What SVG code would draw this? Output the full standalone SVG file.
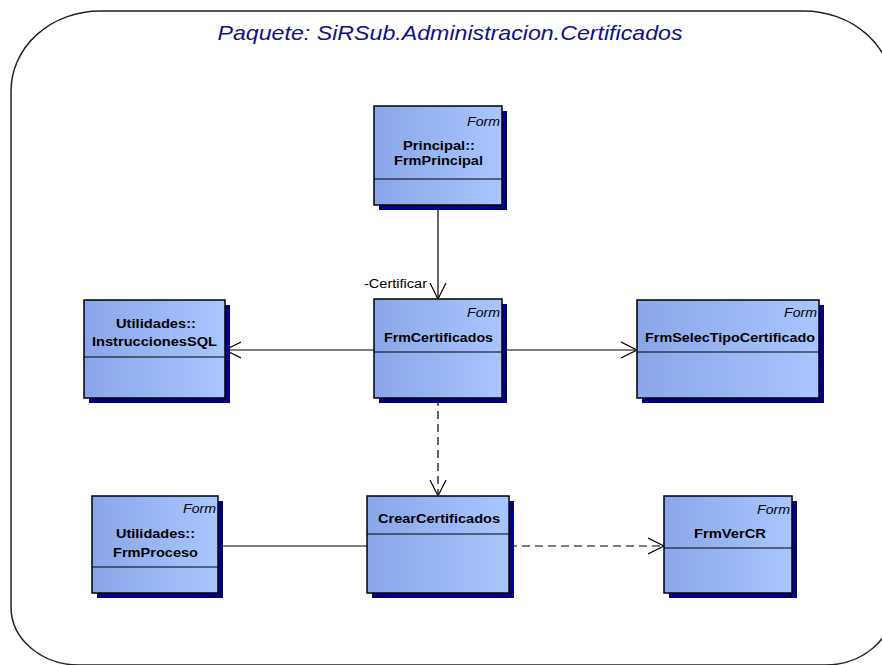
<svg xmlns="http://www.w3.org/2000/svg" width="882" height="665" viewBox="0 0 882 665">
<defs>
<linearGradient id="g" x1="0" y1="0" x2="1" y2="0">
<stop offset="0" stop-color="#8AA6E9"/>
<stop offset="1" stop-color="#A9C6FF"/>
</linearGradient>
<marker id="arr" viewBox="0 0 18 18" refX="16" refY="9" markerWidth="18" markerHeight="18" markerUnits="userSpaceOnUse" orient="auto">
<path d="M0,1 L16,9 L0,17" fill="none" stroke="#000" stroke-width="1.2"/>
</marker>
<style>
.sh{fill:#000080}
.bx{fill:url(#g);stroke:#000;stroke-width:1.5}
.dv{stroke:#000;stroke-width:1.2}
.nm{font-family:"Liberation Sans",Arial,sans-serif;font-weight:bold;font-size:13px;fill:#000;text-anchor:middle}
.st{font-family:"Liberation Sans",Arial,sans-serif;font-style:italic;font-size:12px;fill:#000;text-anchor:end}
.ln{fill:none;stroke:#000;stroke-width:1.2}
.ds{stroke-dasharray:8,5}
.lb{font-family:"Liberation Sans",Arial,sans-serif;font-size:12px;fill:#000}
</style>
</defs>
<rect width="882" height="665" fill="#fff"/>
<path d="M100,11 H804 A89,80 0 0 1 893,91 V607 A68,58 0 0 1 825,665 H79 A68,58 0 0 1 11,607 V91 A89,80 0 0 1 100,11 Z" fill="none" stroke="#222" stroke-width="1.5"/>
<text x="450" y="40" font-family="Liberation Sans,Arial,sans-serif" font-style="italic" font-size="21" fill="#10108C" text-anchor="middle" textLength="465" lengthAdjust="spacingAndGlyphs">Paquete: SiRSub.Administracion.Certificados</text>

<g id="connectors">
<path class="ln" d="M438,205 V299" marker-end="url(#arr)"/>
<text class="lb" x="364" y="288" textLength="63" lengthAdjust="spacingAndGlyphs">-Certificar</text>
<path class="ln" d="M374,350 H225" marker-end="url(#arr)"/>
<path class="ln" d="M502,350 H637" marker-end="url(#arr)"/>
<path class="ln ds" d="M438,398 V496" marker-end="url(#arr)"/>
<path class="ln" d="M218,546 H367"/>
<path class="ln ds" d="M509,546 H664" marker-end="url(#arr)"/>
</g>

<g id="FrmPrincipal">
<rect class="sh" x="379" y="111" width="128" height="99"/>
<rect class="bx" x="374" y="106" width="128" height="99"/>
<line class="dv" x1="374" y1="179" x2="502" y2="179"/>
<text class="st" x="500" y="126" textLength="33" lengthAdjust="spacingAndGlyphs">Form</text>
<text class="nm" x="439" y="150" textLength="72" lengthAdjust="spacingAndGlyphs">Principal::</text>
<text class="nm" x="438.5" y="165" textLength="89" lengthAdjust="spacingAndGlyphs">FrmPrincipal</text>
</g>

<g id="FrmCertificados">
<rect class="sh" x="379" y="304" width="128" height="99"/>
<rect class="bx" x="374" y="299" width="128" height="99"/>
<line class="dv" x1="374" y1="352" x2="502" y2="352"/>
<text class="st" x="500" y="317" textLength="33" lengthAdjust="spacingAndGlyphs">Form</text>
<text class="nm" x="438.5" y="342" textLength="109" lengthAdjust="spacingAndGlyphs">FrmCertificados</text>
</g>

<g id="InstruccionesSQL">
<rect class="sh" x="89" y="305" width="141" height="98"/>
<rect class="bx" x="84" y="300" width="141" height="98"/>
<line class="dv" x1="84" y1="357" x2="225" y2="357"/>
<text class="nm" x="156" y="328" textLength="80" lengthAdjust="spacingAndGlyphs">Utilidades::</text>
<text class="nm" x="154.5" y="346" textLength="125" lengthAdjust="spacingAndGlyphs">InstruccionesSQL</text>
</g>

<g id="FrmSelecTipoCertificado">
<rect class="sh" x="642" y="305" width="182" height="98"/>
<rect class="bx" x="637" y="300" width="182" height="98"/>
<line class="dv" x1="637" y1="352" x2="819" y2="352"/>
<text class="st" x="817" y="317" textLength="33" lengthAdjust="spacingAndGlyphs">Form</text>
<text class="nm" x="730" y="342" textLength="170" lengthAdjust="spacingAndGlyphs">FrmSelecTipoCertificado</text>
</g>

<g id="FrmProceso">
<rect class="sh" x="97" y="501" width="126" height="97"/>
<rect class="bx" x="92" y="496" width="126" height="97"/>
<line class="dv" x1="92" y1="567" x2="218" y2="567"/>
<text class="st" x="216" y="513" textLength="33" lengthAdjust="spacingAndGlyphs">Form</text>
<text class="nm" x="155.5" y="538" textLength="79" lengthAdjust="spacingAndGlyphs">Utilidades::</text>
<text class="nm" x="155.5" y="557" textLength="85" lengthAdjust="spacingAndGlyphs">FrmProceso</text>
</g>

<g id="CrearCertificados">
<rect class="sh" x="372" y="501" width="142" height="97"/>
<rect class="bx" x="367" y="496" width="142" height="97"/>
<line class="dv" x1="367" y1="534" x2="509" y2="534"/>
<text class="nm" x="439" y="523" textLength="122" lengthAdjust="spacingAndGlyphs">CrearCertificados</text>
</g>

<g id="FrmVerCR">
<rect class="sh" x="669" y="501" width="128" height="97"/>
<rect class="bx" x="664" y="496" width="128" height="97"/>
<line class="dv" x1="664" y1="548" x2="792" y2="548"/>
<text class="st" x="790" y="514" textLength="33" lengthAdjust="spacingAndGlyphs">Form</text>
<text class="nm" x="730" y="538" textLength="72" lengthAdjust="spacingAndGlyphs">FrmVerCR</text>
</g>
</svg>
